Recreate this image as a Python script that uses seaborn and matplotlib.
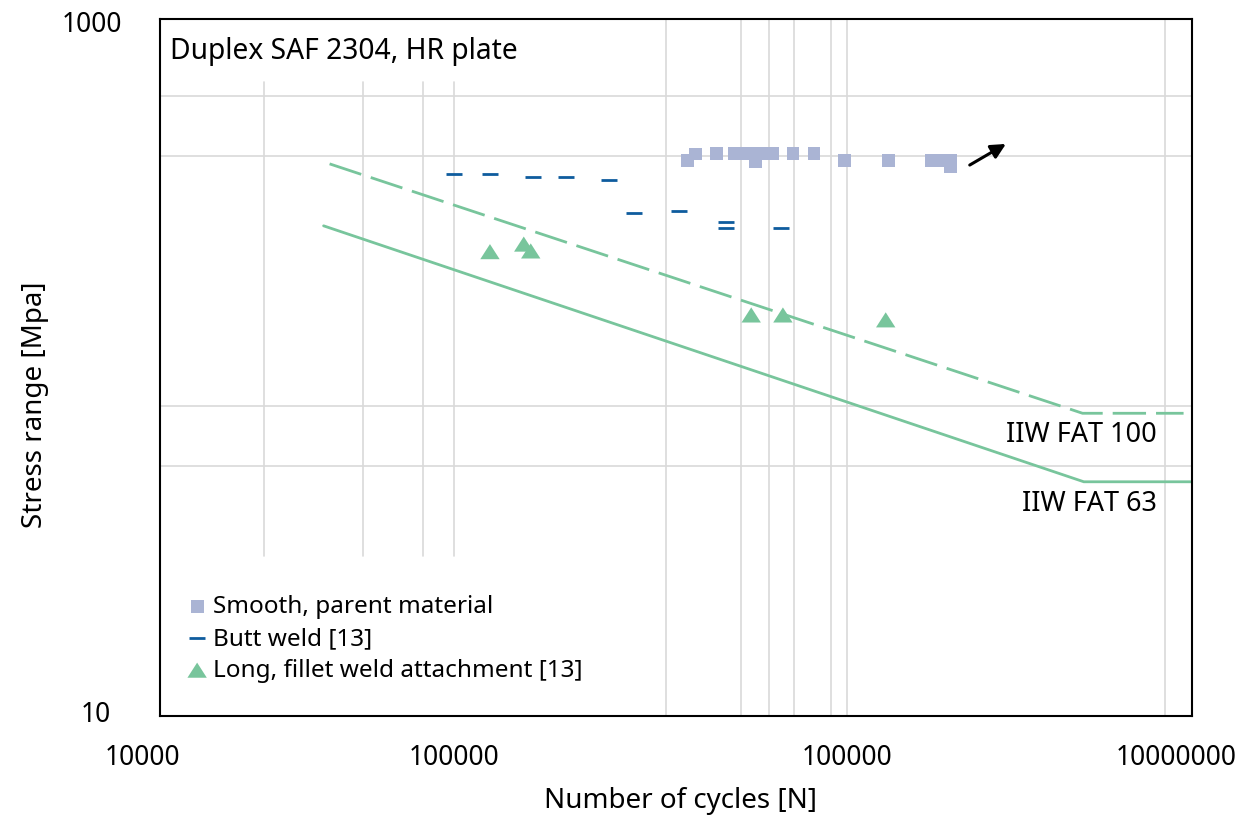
import matplotlib
matplotlib.use("Agg")
import matplotlib.pyplot as plt
from matplotlib.transforms import ScaledTranslation
import seaborn as sns

# smooth specimens, parent material (cycles, stress range in MPa)
smooth_n = [3.76e5, 3.98e5, 4.59e5, 5.2e5, 5.68e5, 6.0e5, 6.22e5, 6.77e5,
            7.77e5, 8.98e5, 1.11e6, 1.5e6, 2.01e6, 2.2e6, 2.3e6, 2.3e6]
smooth_s = [393, 410, 411, 411, 411, 391, 411, 411,
            411, 411, 393, 393, 393, 393, 393, 377]

# butt weld [13]
butt_n = [7.53e4, 9.65e4, 1.30e5, 1.63e5, 2.2e5, 2.6e5, 3.56e5, 4.9e5, 4.9e5, 7.15e5]
butt_s = [359, 358, 352, 352, 345, 278, 281, 262, 252, 252]

# long, fillet weld attachment [13]
fillet_n = [9.67e4, 1.22e5, 1.28e5, 5.83e5, 7.25e5, 1.47e6]
fillet_s = [215, 226, 216, 141.5, 141.5, 137]

# IIW design curves (start, knee, end)
fat100_n = [3.21e4, 5.69e6, 1.14e7]
fat100_s = [384, 73.9, 73.9]
fat63_n = [3.08e4, 5.74e6, 1.21e7]
fat63_s = [255, 47.0, 47.0]

# gridlines as drawn in the original figure
grid_x_full = [3.24e5, 5.44e5, 6.6e5, 7.84e5, 1.01e6, 1.13e6, 1e7]
grid_x_part = [2.05e4, 4.03e4, 6.1e4, 7.53e4]
grid_y = [601, 404, 77.5, 52.2]

xtick_vals = [1e4, 7.53e4, 1.13e6, 1e7]
xtick_labels = ["10000", "100000", "100000", "10000000"]
ytick_vals = [10, 1000]
ytick_labels = ["10", "1000"]

SQUARE_C = "#aab4d4"
BLUE = "#0e5c9e"
GREEN = "#78c59c"
GRID = "#d9d9d9"
TRI = [(0, 0.78), (-1, -0.78), (1, -0.78)]

sns.set_theme(style="white")
plt.rcParams["font.family"] = ["Noto Sans", "DejaVu Sans"]
plt.rcParams.update({"text.color": "black", "axes.labelcolor": "black",
                     "xtick.color": "black", "ytick.color": "black"})

fig, ax = plt.subplots(figsize=(12.41, 8.19), dpi=100)
fig.subplots_adjust(left=160 / 1241, right=1192 / 1241,
                    bottom=(819 - 716) / 819, top=(819 - 19) / 819)
ax.set_xscale("log")
ax.set_yscale("log")
ax.set_xlim(1e4, 1.208e7)
ax.set_ylim(10, 1000)

for gx in grid_x_full:
    ax.axvline(gx, color=GRID, lw=1.2, zorder=0)
for gx in grid_x_part:
    ax.axvline(gx, ymin=0.2296, ymax=0.9096, color=GRID, lw=1.2, zorder=0)
for gy in grid_y:
    ax.axhline(gy, color=GRID, lw=1.2, zorder=0)

sns.lineplot(x=fat100_n, y=fat100_s, ax=ax, color=GREEN, lw=2.0,
             linestyle=(0, (12, 3.6)), estimator=None, sort=False)
sns.lineplot(x=fat63_n, y=fat63_s, ax=ax, color=GREEN, lw=2.0,
             estimator=None, sort=False)

sns.scatterplot(x=smooth_n, y=smooth_s, ax=ax, marker="s", s=85,
                color=SQUARE_C, edgecolor="none", linewidth=0,
                label="Smooth, parent material", zorder=3)
sns.scatterplot(x=butt_n, y=butt_s, ax=ax, marker="_", s=120,
                color=BLUE, linewidth=2.0, label="Butt weld [13]", zorder=3)
sns.scatterplot(x=fillet_n, y=fillet_s, ax=ax, marker=TRI, s=195,
                color=GREEN, edgecolor="none", linewidth=0,
                label="Long, fillet weld attachment [13]", zorder=3)

# run-out arrow
ax.annotate("", xy=(3.36e6, 438), xytext=(2.62e6, 381),
            arrowprops=dict(arrowstyle="-|>", color="black", lw=2.2,
                            mutation_scale=22, shrinkA=0, shrinkB=0))

ax.text(0.0097, 0.9527, "Duplex SAF 2304, HR plate", transform=ax.transAxes,
        ha="left", va="center", fontsize=20.3)
ax.text(9.5e6, 64.0, "IIW FAT 100", ha="right", va="center", fontsize=19.5)
ax.text(9.5e6, 40.6, "IIW FAT 63", ha="right", va="center", fontsize=19.5)

ax.set_xticks(xtick_vals, labels=xtick_labels)
ax.set_yticks(ytick_vals, labels=ytick_labels)
ax.minorticks_off()
ax.tick_params(axis="x", length=0, pad=20, labelsize=19, labelcolor="black")
ax.tick_params(axis="y", length=0, pad=27, labelsize=19, labelcolor="black")

xl = ax.get_xticklabels()
xl[0].set_transform(xl[0].get_transform() + ScaledTranslation(-0.18, 0, fig.dpi_scale_trans))
xl[-1].set_transform(xl[-1].get_transform() + ScaledTranslation(0.12, 0, fig.dpi_scale_trans))
yl = ax.get_yticklabels()
yl[0].set_transform(yl[0].get_transform() + ScaledTranslation(-0.12, 0.04, fig.dpi_scale_trans))
yl[-1].set_transform(yl[-1].get_transform() + ScaledTranslation(0, -0.03, fig.dpi_scale_trans))

ax.set_xlabel("Number of cycles [N]", fontsize=20, color="black")
ax.set_ylabel("Stress range [Mpa]", fontsize=20, color="black")
ax.xaxis.set_label_coords(0.504, -0.102)
ax.yaxis.set_label_coords(-0.108, 0.446)

for sp in ax.spines.values():
    sp.set_visible(True)
    sp.set_color("black")
    sp.set_linewidth(1.5)

leg = ax.legend(loc="upper left", bbox_to_anchor=(0.0242, 0.1736), frameon=False,
                fontsize=17.5, handlelength=1.0, handletextpad=0.15,
                labelspacing=0.32, borderpad=0, borderaxespad=0)
for t in leg.get_texts():
    t.set_color("black")

fig.savefig("out.png", dpi=100)
